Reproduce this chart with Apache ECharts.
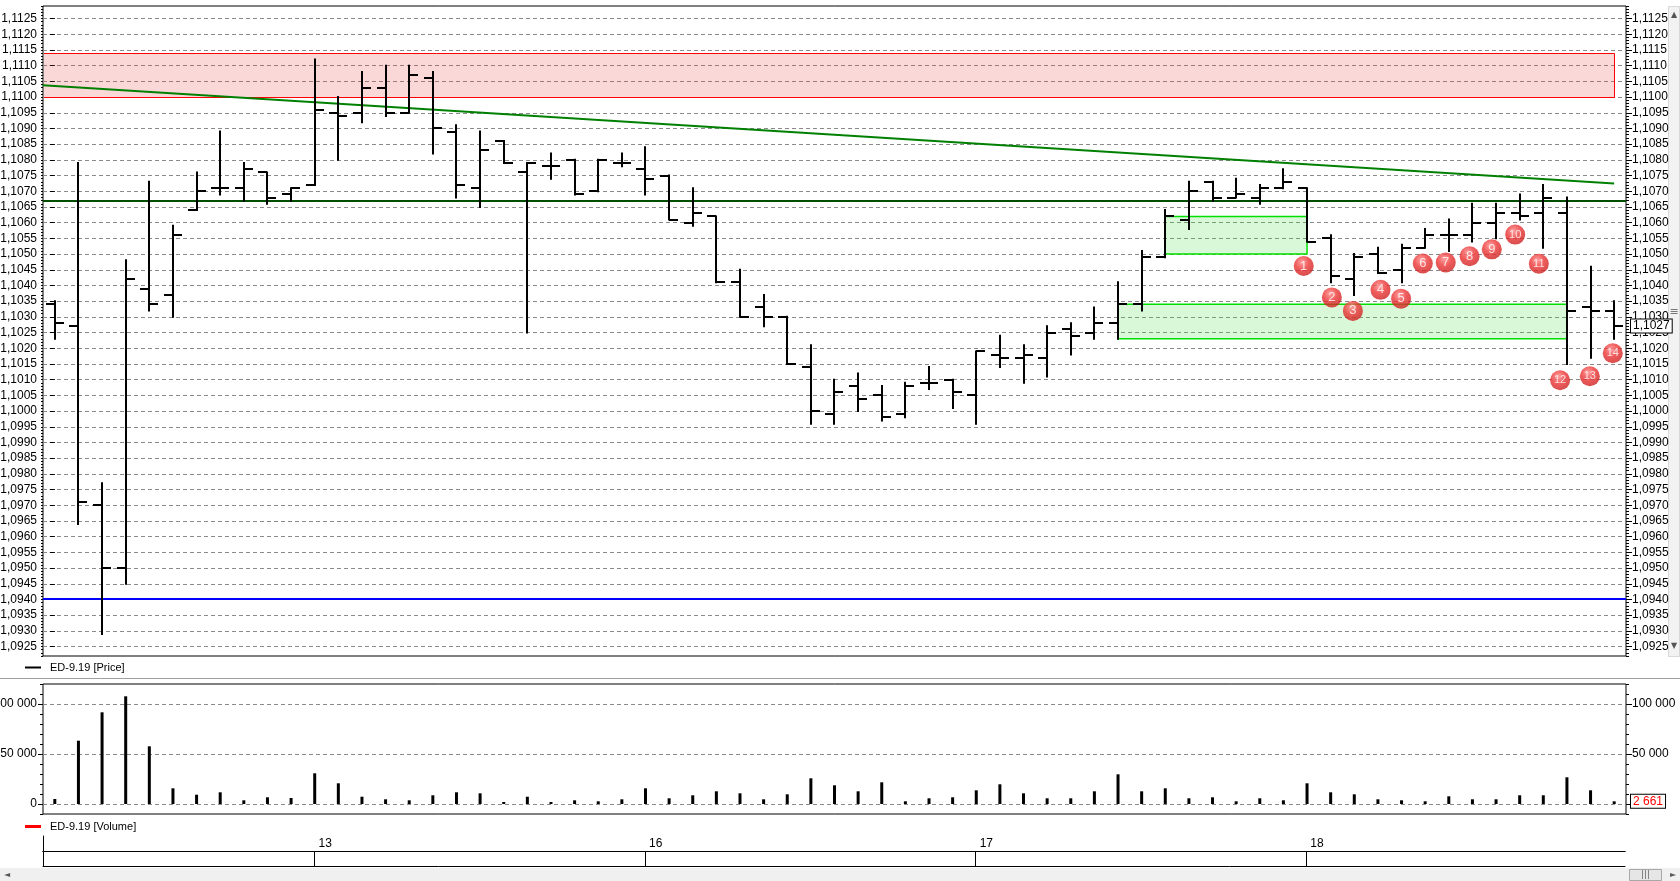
<!DOCTYPE html>
<html>
<head>
<meta charset="utf-8">
<title>ED-9.19</title>
<script src="https://cdn.jsdelivr.net/npm/echarts@6.0.0/dist/echarts.min.js"></script>
<style>
  html, body { margin: 0; padding: 0; background: #fff; }
  #chart { width: 1680px; height: 881px; }
</style>
</head>
<body>
<div id="chart"></div>
<script>
// trading sessions: [day, bars visible]
let sessions = [['12', 11], ['13', 14], ['16', 14], ['17', 14], ['18', 14]];

let open = [
  1.1034, 1.1027, 1.0970, 1.0950, 1.1039, 1.1037, 1.1064, 1.1071, 1.1071, 1.1076, 1.1069,
  1.1072, 1.1095, 1.1095, 1.1103, 1.1095, 1.1106, 1.1089, 1.1071, 1.1086, 1.1076, 1.1078, 1.1080, 1.1070, 1.1079,
  1.1077, 1.1075, 1.1060, 1.1062, 1.1041, 1.1033, 1.1030, 1.1014, 1.0999, 1.1008, 1.1005, 1.0999, 1.1009, 1.1010,
  1.1005, 1.1018, 1.1017, 1.1017, 1.1026, 1.1025, 1.1028, 1.1034, 1.1049, 1.1061, 1.1073, 1.1068, 1.1068, 1.1071,
  1.1071, 1.1055, 1.1042, 1.1050, 1.1045, 1.1052, 1.1056, 1.1056, 1.1060, 1.1063, 1.1063, 1.1063, 1.1033, 1.1032
];
let high = [
  1.1035, 1.1079, 1.0977, 1.1048, 1.1073, 1.1059, 1.1076, 1.1089, 1.1079, 1.1076, 1.1071,
  1.1112, 1.1100, 1.1108, 1.1110, 1.1110, 1.1108, 1.1091, 1.1089, 1.1086, 1.1079, 1.1082, 1.1080, 1.1080, 1.1082,
  1.1084, 1.1075, 1.1071, 1.1062, 1.1045, 1.1037, 1.1030, 1.1021, 1.1010, 1.1012, 1.1008, 1.1009, 1.1014, 1.1010,
  1.1019, 1.1024, 1.1021, 1.1027, 1.1028, 1.1033, 1.1041, 1.1051, 1.1064, 1.1073, 1.1073, 1.1074, 1.1072, 1.1077,
  1.1071, 1.1056, 1.1050, 1.1052, 1.1053, 1.1058, 1.1061, 1.1066, 1.1066, 1.1069, 1.1072, 1.1068, 1.1046, 1.1035
];
let low = [
  1.1023, 1.0964, 1.0929, 1.0945, 1.1032, 1.1030, 1.1064, 1.1069, 1.1067, 1.1066, 1.1067,
  1.1072, 1.1080, 1.1092, 1.1094, 1.1095, 1.1082, 1.1068, 1.1065, 1.1079, 1.1025, 1.1074, 1.1069, 1.1070, 1.1078,
  1.1069, 1.1061, 1.1059, 1.1041, 1.1030, 1.1027, 1.1015, 1.0996, 1.0996, 1.1000, 1.0997, 1.0998, 1.1007, 1.1001,
  1.0996, 1.1014, 1.1009, 1.1011, 1.1018, 1.1023, 1.1023, 1.1032, 1.1049, 1.1058, 1.1067, 1.1068, 1.1066, 1.1071,
  1.1054, 1.1041, 1.1037, 1.1044, 1.1041, 1.1052, 1.1051, 1.1054, 1.1055, 1.1061, 1.1052, 1.1015, 1.1017, 1.1023
];
let close = [
  1.1028, 1.0971, 1.0950, 1.1042, 1.1034, 1.1056, 1.1070, 1.1071, 1.1077, 1.1068, 1.1071,
  1.1096, 1.1094, 1.1103, 1.1095, 1.1107, 1.1090, 1.1072, 1.1083, 1.1079, 1.1079, 1.1078, 1.1069, 1.1080, 1.1079,
  1.1074, 1.1061, 1.1063, 1.1041, 1.1030, 1.1030, 1.1015, 1.1000, 1.1006, 1.1004, 1.0998, 1.1008, 1.1009, 1.1006,
  1.1019, 1.1017, 1.1018, 1.1025, 1.1024, 1.1028, 1.1034, 1.1049, 1.1062, 1.1070, 1.1068, 1.1069, 1.1071, 1.1073,
  1.1054, 1.1043, 1.1049, 1.1044, 1.1052, 1.1056, 1.1056, 1.1060, 1.1063, 1.1062, 1.1068, 1.1032, 1.1032, 1.1027
];
let volume = [
  5000, 63300, 91700, 107700, 57700, 15700, 9300, 11700, 3700, 6700, 6000,
  30700, 20700, 7300, 4700, 3700, 8700, 11700, 10700, 2000, 7300, 2000, 3700, 2700, 4700,
  15700, 5700, 8700, 12700, 10700, 4700, 9700, 25700, 18700, 12700, 21700, 2700, 5700, 6700,
  13700, 19700, 10700, 5700, 5700, 12700, 29700, 12700, 15700, 5700, 6700, 2700, 5700, 3700,
  20700, 11700, 9700, 4700, 3700, 2700, 7700, 4700, 4700, 8700, 8700, 26700, 13700, 2661
];

let priceTicks = [
  1.0925, 1.0930, 1.0935, 1.0940, 1.0945, 1.0950, 1.0955, 1.0960, 1.0965, 1.0970, 1.0975,
  1.0980, 1.0985, 1.0990, 1.0995, 1.1000, 1.1005, 1.1010, 1.1015, 1.1020, 1.1025, 1.1030,
  1.1035, 1.1040, 1.1045, 1.1050, 1.1055, 1.1060, 1.1065, 1.1070, 1.1075, 1.1080, 1.1085,
  1.1090, 1.1095, 1.1100, 1.1105, 1.1110, 1.1115, 1.1120, 1.1125
];
let volumeTicks = [0, 50000, 100000];

// drawn objects, x in bar index units
let resistanceZone = [[-0.5, 66, 1.1114, 1.1100]];
let supportZones = [[47, 53, 1.1062, 1.1050], [45, 64, 1.1034, 1.1023]];
let trendLine = [[-0.5, 1.11038], [66, 1.10725]];
let levels = [1.1067, 1.0940];
let markers = [
  [52.86, 1.10462], [54.05, 1.10362], [54.94, 1.10319], [56.11, 1.10386], [56.98, 1.10358],
  [57.90, 1.10470], [58.87, 1.10473], [59.88, 1.10493], [60.82, 1.10515], [61.81, 1.10562],
  [62.81, 1.10469], [63.71, 1.10098], [64.97, 1.10111], [65.94, 1.10184]
];

let categories = [];
let dayOf = [];
sessions.forEach(function (s) {
  for (let k = 1; k <= s[1]; k++) {
    categories.push(s[0] + ' #' + k);
    dayOf.push(s[0]);
  }
});

const FONT = "'Liberation Sans', Arial, sans-serif";
const last = close.length - 1;
const levelColors = ['#004d00', '#0000ff'];

function fmtPrice(v) { return Number(v).toFixed(4).replace('.', ','); }
function fmtVolume(v) { return String(Math.round(v)).replace(/\B(?=(\d{3})+(?!\d))/g, ' '); }
function isDayStart(i) { return i > 0 && dayOf[i] !== dayOf[i - 1]; }

let ohlc = categories.map(function (c, i) { return [i, open[i], high[i], low[i], close[i]]; });

function renderBar(params, api) {
  let i = api.value(0);
  let o = api.coord([i, api.value(1)]);
  let h = api.coord([i, api.value(2)]);
  let l = api.coord([i, api.value(3)]);
  let c = api.coord([i, api.value(4)]);
  let x = Math.round(h[0]);
  let style = { stroke: '#000', lineWidth: 2 };
  let yo = Math.round(o[1]);
  let yc = Math.round(c[1]);
  return {
    type: 'group',
    children: [
      { type: 'line', shape: { x1: x, y1: h[1] - 1, x2: x, y2: l[1] + 1 }, style: style },
      { type: 'line', shape: { x1: x - 9, y1: yo, x2: x, y2: yo }, style: style },
      { type: 'line', shape: { x1: x, y1: yc, x2: x + 9, y2: yc }, style: style }
    ]
  };
}

function crisp(v) { return Math.round(v) + 0.5; }

function renderResistance(params, api) {
  let cs = params.coordSys;
  let a = api.coord([api.value(0), api.value(2)]);
  let b = api.coord([api.value(1), api.value(3)]);
  let x0 = Math.max(a[0], cs.x + 1), x1 = crisp(b[0]), y0 = crisp(a[1]), y1 = crisp(b[1]);
  return {
    type: 'group',
    children: [
      { type: 'rect', shape: { x: x0, y: y0, width: x1 - x0, height: y1 - y0 },
        style: { fill: 'rgba(230,60,60,0.2)' } },
      { type: 'polyline', shape: { points: [[x0, y0], [x1, y0], [x1, y1], [x0, y1]] },
        style: { stroke: '#ff0000', lineWidth: 1, fill: null } }
    ]
  };
}

function renderSupport(params, api) {
  let a = api.coord([api.value(0), api.value(2)]);
  let b = api.coord([api.value(1), api.value(3)]);
  return {
    type: 'rect',
    shape: { x: a[0], y: a[1], width: b[0] - a[0], height: b[1] - a[1] },
    style: { fill: 'rgba(60,220,60,0.2)', stroke: '#00e000', lineWidth: 1.5 }
  };
}

function renderLevel(params, api) {
  let cs = params.coordSys;
  let y = Math.round(api.coord([0, api.value(0)])[1]);
  return {
    type: 'line',
    shape: { x1: cs.x, y1: y, x2: cs.x + cs.width, y2: y },
    style: { stroke: levelColors[params.dataIndex], lineWidth: 2 }
  };
}

function renderLastPrice(params, api) {
  let cs = params.coordSys;
  let y = Math.round(api.coord([0, api.value(0)])[1]);
  return {
    type: 'text',
    x: cs.x + cs.width + 5, y: y,
    style: {
      text: fmtPrice(api.value(0)), font: '12px ' + FONT, fill: '#000',
      align: 'left', verticalAlign: 'middle',
      backgroundColor: '#fff', borderColor: '#000', borderWidth: 1, padding: [1, 2, 0, 2]
    }
  };
}

let chartDom = document.getElementById('chart');
let chart = echarts.init(chartDom);
let option;

let priceMin = 1.0922, priceMax = 1.1129;
let volMin = -10000, volMax = 120000;

let dashed = { show: true, lineStyle: { color: '#8a8a8a', type: [4, 3], width: 1 } };
let labelStyle = { color: '#000', fontFamily: FONT, fontSize: 12 };

function majorAxis(grid, pos, min, max, ticks, fmt, tickLen, split) {
  return {
    type: 'value', gridIndex: grid, position: pos, min: min, max: max,
    axisLine: { show: false },
    axisTick: { show: true, length: tickLen, customValues: ticks, lineStyle: { color: '#000' } },
    axisLabel: Object.assign({ customValues: ticks, margin: 6, formatter: fmt }, labelStyle),
    splitLine: split ? dashed : { show: false }
  };
}
function minorAxis(grid, pos, min, max, step, tickLen) {
  return {
    type: 'value', gridIndex: grid, position: pos, min: min, max: max, interval: step,
    axisLine: { show: false },
    axisTick: { show: true, length: tickLen, lineStyle: { color: '#000' } },
    axisLabel: { show: false },
    splitLine: { show: false }
  };
}
function stripAxis(grid, pos) {
  return {
    type: 'category', gridIndex: grid, position: pos, data: categories,
    axisLine: { show: true, lineStyle: { color: '#000', width: 1 } },
    axisTick: { show: false }, axisLabel: { show: false }, splitLine: { show: false }
  };
}

let gridBase = { left: 43, right: 54, containLabel: false, outerBoundsMode: 'none' };

option = {
  animation: false,
  backgroundColor: '#fff',
  grid: [
    Object.assign({ top: 6, height: 650, show: true, borderColor: '#000', borderWidth: 1 }, gridBase),
    Object.assign({ top: 684, height: 130, show: true, borderColor: '#000', borderWidth: 1 }, gridBase),
    Object.assign({}, gridBase, { right: 55, top: 836, height: 15 }),
    Object.assign({}, gridBase, { right: 55, top: 851, height: 15 })
  ],
  xAxis: [
    { type: 'category', gridIndex: 0, data: categories, show: false },
    { type: 'value', gridIndex: 0, min: -0.5, max: 66.5, show: false },
    { type: 'category', gridIndex: 1, data: categories, show: false },
    {
      type: 'category', gridIndex: 2, position: 'top', data: categories,
      axisLine: { show: true, lineStyle: { color: '#000', width: 1 } },
      axisTick: { show: true, inside: true, length: 15, alignWithLabel: true,
        interval: function (i) { return isDayStart(i); }, lineStyle: { color: '#000' } },
      axisLabel: {
        inside: true, margin: 2, align: 'left', padding: [0, 0, 0, 4],
        color: '#000', fontFamily: FONT, fontSize: 12,
        interval: function (i) { return isDayStart(i); },
        formatter: function (v, i) { return dayOf[i]; }
      },
      splitLine: { show: false }
    },
    stripAxis(2, 'bottom'),
    stripAxis(3, 'bottom')
  ],
  yAxis: [
    majorAxis(0, 'left', priceMin, priceMax, priceTicks, fmtPrice, 5, true),
    majorAxis(0, 'right', priceMin, priceMax, priceTicks, fmtPrice, 6, false),
    minorAxis(0, 'left', priceMin, priceMax, 0.0001, 2),
    minorAxis(0, 'right', priceMin, priceMax, 0.0001, 3),
    majorAxis(1, 'left', volMin, volMax, volumeTicks, fmtVolume, 5, true),
    majorAxis(1, 'right', volMin, volMax, volumeTicks, fmtVolume, 6, false),
    minorAxis(1, 'left', volMin, volMax, 10000, 3),
    minorAxis(1, 'right', volMin, volMax, 10000, 3),
    { type: 'value', gridIndex: 2, axisLine: { show: true, lineStyle: { color: '#000' } },
      axisTick: { show: false }, axisLabel: { show: false }, splitLine: { show: false } },
    { type: 'value', gridIndex: 3, axisLine: { show: true, lineStyle: { color: '#000' } },
      axisTick: { show: false }, axisLabel: { show: false }, splitLine: { show: false } }
  ],
  series: [
    {
      name: 'resistance', type: 'custom', xAxisIndex: 1, yAxisIndex: 0, z: 1, silent: true,
      renderItem: renderResistance, data: resistanceZone
    },
    {
      name: 'support', type: 'custom', xAxisIndex: 1, yAxisIndex: 0, z: 1, silent: true,
      renderItem: renderSupport, data: supportZones
    },
    {
      name: 'levels', type: 'custom', xAxisIndex: 1, yAxisIndex: 0, z: 2, silent: true,
      renderItem: renderLevel, encode: { y: 0 }, data: levels.map(function (v) { return [v]; })
    },
    {
      name: 'trend', type: 'line', xAxisIndex: 1, yAxisIndex: 0, z: 2, silent: true,
      data: trendLine, showSymbol: false, symbol: 'none',
      lineStyle: { color: '#008000', width: 2 }
    },
    {
      name: 'ED-9.19 [Price]', type: 'custom', xAxisIndex: 0, yAxisIndex: 0, z: 3,
      renderItem: renderBar, encode: { x: 0, y: [1, 2, 3, 4] }, data: ohlc
    },
    {
      name: 'last price', type: 'custom', xAxisIndex: 1, yAxisIndex: 0, z: 5, silent: true,
      renderItem: renderLastPrice, encode: { y: 0 }, data: [[close[last]]]
    },
    {
      name: 'marks', type: 'scatter', xAxisIndex: 1, yAxisIndex: 0, z: 4, silent: true,
      symbol: 'circle', symbolSize: 20,
      data: markers.map(function (m, k) {
        return { value: [m[0], m[1], k + 1], label: { fontSize: k >= 9 ? 11 : 13 } };
      }),
      itemStyle: {
        color: new echarts.graphic.RadialGradient(0.42, 0.32, 0.75, [
          { offset: 0, color: '#ff8a8a' },
          { offset: 0.45, color: '#ec3434' },
          { offset: 1, color: '#c81c1c' }
        ])
      },
      label: {
        show: true, position: 'inside', color: '#fff', fontFamily: FONT,
        formatter: function (p) { return p.value[2]; }
      }
    },
    {
      name: 'ED-9.19 [Volume]', type: 'bar', xAxisIndex: 2, yAxisIndex: 4,
      data: volume, barWidth: 3, itemStyle: { color: '#000' },
      markLine: {
        silent: true, symbol: ['none', 'none'], animation: false,
        data: [{
          yAxis: volume[last], lineStyle: { color: 'rgba(0,0,0,0)', width: 0 },
          label: {
            show: true, position: 'end', distance: 5, formatter: fmtVolume(volume[last]),
            color: '#ff0000', fontFamily: FONT, fontSize: 12, lineHeight: 12,
            backgroundColor: '#fff', borderColor: '#000', borderWidth: 1, padding: [1, 2, 0, 2]
          }
        }]
      }
    }
  ],
  graphic: {
    elements: [
      // legend rows
      { type: 'line', shape: { x1: 25, y1: 667.5, x2: 41, y2: 667.5 }, style: { stroke: '#000', lineWidth: 2 } },
      { type: 'text', x: 50, y: 667.5, style: { text: 'ED-9.19 [Price]', fill: '#000', font: '11px ' + FONT, verticalAlign: 'middle' } },
      { type: 'line', shape: { x1: 0, y1: 678.5, x2: 1680, y2: 678.5 }, style: { stroke: '#a0a0a0', lineWidth: 1 } },
      { type: 'line', shape: { x1: 25, y1: 826.5, x2: 41, y2: 826.5 }, style: { stroke: '#ff0000', lineWidth: 3 } },
      { type: 'text', x: 50, y: 827, style: { text: 'ED-9.19 [Volume]', fill: '#000', font: '11px ' + FONT, verticalAlign: 'middle' } },
      // right scroll bar
      { type: 'rect', shape: { x: 1668.5, y: 6.5, width: 11, height: 650 }, style: { fill: '#f2f2f2', stroke: '#d8d8d8', lineWidth: 1 } },
      { type: 'text', x: 1674, y: 15, style: { text: '▲', fill: '#555', font: '8px DejaVu Sans', align: 'center', verticalAlign: 'middle' } },
      { type: 'text', x: 1674, y: 312, style: { text: '≡', fill: '#777', font: '11px DejaVu Sans', align: 'center', verticalAlign: 'middle' } },
      { type: 'text', x: 1674, y: 646, style: { text: '▼', fill: '#555', font: '8px DejaVu Sans', align: 'center', verticalAlign: 'middle' } },
      // bottom scroll bar
      { type: 'rect', shape: { x: 0, y: 868, width: 1680, height: 13 }, style: { fill: '#f0f0f0' } },
      { type: 'text', x: 7, y: 874.5, style: { text: '◄', fill: '#555', font: '8px DejaVu Sans', align: 'center', verticalAlign: 'middle' } },
      { type: 'rect', shape: { x: 1629.5, y: 869.5, width: 32, height: 11 }, style: { fill: '#e6e6e6', stroke: '#a8a8a8', lineWidth: 1 } },
      { type: 'text', x: 1645.5, y: 875, style: { text: '|||', fill: '#666', font: '9px DejaVu Sans', align: 'center', verticalAlign: 'middle' } },
      { type: 'text', x: 1673, y: 874.5, style: { text: '►', fill: '#555', font: '8px DejaVu Sans', align: 'center', verticalAlign: 'middle' } }
    ]
  }
};

option && chart.setOption(option);
</script>
</body>
</html>
